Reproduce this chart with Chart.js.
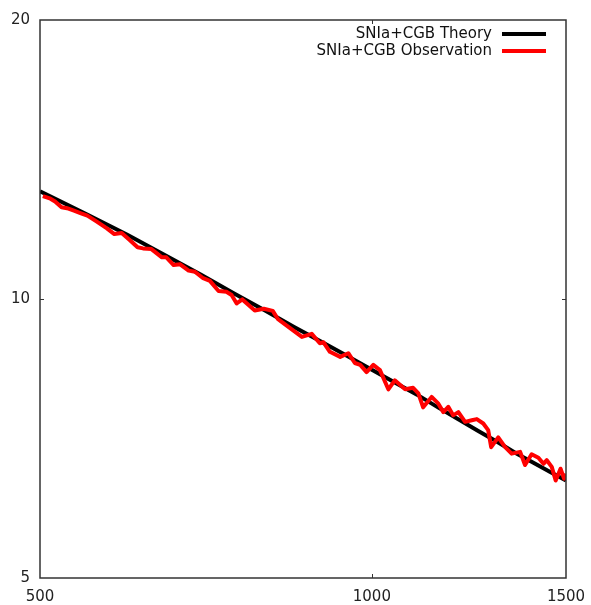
<!DOCTYPE html>
<html>
<head>
<meta charset="utf-8">
<script src="https://cdn.jsdelivr.net/npm/chart.js@4"></script>
<style>
  body { margin: 0; background: #fff; }
  canvas { display: block; }
</style>
</head>
<body>
<canvas id="chart" width="591" height="605"></canvas>
<script>
// theory curve
const theoryX = [500, 550, 600, 650, 700, 750, 800, 850, 900, 950, 1000,
  1050, 1100, 1150, 1200, 1250, 1300, 1350, 1400, 1450, 1500];
const theoryY = [13.07, 12.36, 11.73, 11.14, 10.62, 10.14, 9.72, 9.33, 8.99, 8.68, 8.39,
  8.12, 7.88, 7.63, 7.41, 7.20, 7.01, 6.82, 6.66, 6.51, 6.37];

// observation curve
const obsX = [503, 511, 516, 523, 529, 536, 544, 552, 563, 575,
  584, 593, 603, 613, 620, 631, 645, 651, 661, 670,
  682, 691, 703, 713, 726, 738, 746, 754, 763, 773,
  783, 798, 813, 822, 843, 864, 882, 897, 904, 916,
  936, 952, 965, 976, 989, 1003, 1017, 1035, 1049, 1072,
  1090, 1102, 1113, 1133, 1149, 1161, 1173, 1185, 1198, 1215,
  1232, 1245, 1262, 1275, 1283, 1302, 1321, 1339, 1363, 1377,
  1396, 1416, 1431, 1441, 1456, 1468, 1483, 1494, 1500];
const obsY = [12.91, 12.83, 12.74, 12.56, 12.53, 12.46, 12.38, 12.30, 12.12, 11.92,
  11.75, 11.78, 11.58, 11.37, 11.34, 11.32, 11.09, 11.09, 10.88, 10.90,
  10.73, 10.70, 10.53, 10.46, 10.20, 10.18, 10.10, 9.89, 9.99, 9.85,
  9.72, 9.76, 9.71, 9.51, 9.30, 9.10, 9.17, 8.96, 8.98, 8.77,
  8.66, 8.74, 8.53, 8.49, 8.34, 8.49, 8.38, 7.99, 8.17, 7.99,
  8.02, 7.91, 7.64, 7.84, 7.71, 7.55, 7.65, 7.49, 7.55, 7.37,
  7.40, 7.42, 7.34, 7.22, 6.92, 7.09, 6.92, 6.81, 6.84, 6.62,
  6.80, 6.74, 6.64, 6.70, 6.59, 6.37, 6.56, 6.40, 6.48];

const xTicks = [500, 1000, 1500];
const yTicks = [5, 10, 20];
const seriesNames = ['SNIa+CGB Theory', 'SNIa+CGB Observation'];

const FONT = '"DejaVu Sans", sans-serif';

// frame, inward ticks on all four sides, and the legend in the top-right corner
const framePlugin = {
  id: 'frame',
  afterDatasetsDraw(chart) {
    const { ctx, chartArea: a, scales } = chart;
    ctx.save();
    ctx.strokeStyle = '#333';
    ctx.lineWidth = 1.5;
    ctx.strokeRect(a.left, a.top, a.right - a.left, a.bottom - a.top);
    ctx.lineWidth = 1;
    ctx.beginPath();
    xTicks.slice(1, -1).forEach(v => {
      const px = Math.round(scales.x.getPixelForValue(v)) + 0.5;
      ctx.moveTo(px, a.bottom); ctx.lineTo(px, a.bottom - 4);
      ctx.moveTo(px, a.top); ctx.lineTo(px, a.top + 4);
    });
    yTicks.slice(1, -1).forEach(v => {
      const py = Math.round(scales.y.getPixelForValue(v)) + 0.5;
      ctx.moveTo(a.left, py); ctx.lineTo(a.left + 4, py);
      ctx.moveTo(a.right, py); ctx.lineTo(a.right - 4, py);
    });
    ctx.stroke();

    // legend
    ctx.font = '15px ' + FONT;
    ctx.textAlign = 'right';
    ctx.textBaseline = 'middle';
    const legend = [
      { label: seriesNames[0], color: '#000000', y: 34 },
      { label: seriesNames[1], color: '#ff0000', y: 51 }
    ];
    legend.forEach(it => {
      ctx.fillStyle = '#111';
      ctx.fillText(it.label, 492, it.y);
      ctx.strokeStyle = it.color;
      ctx.lineWidth = 4;
      ctx.beginPath();
      ctx.moveTo(502, it.y);
      ctx.lineTo(546, it.y);
      ctx.stroke();
    });
    ctx.restore();
  }
};

new Chart(document.getElementById('chart'), {
  type: 'line',
  data: {
    datasets: [
      {
        label: seriesNames[1],
        data: obsX.map((x, i) => ({ x, y: obsY[i] })),
        borderColor: '#ff0000',
        borderWidth: 4,
        pointRadius: 0,
        tension: 0,
        borderJoinStyle: 'round',
        order: 0
      },
      {
        label: seriesNames[0],
        data: theoryX.map((x, i) => ({ x, y: theoryY[i] })),
        borderColor: '#000000',
        borderWidth: 4,
        pointRadius: 0,
        tension: 0,
        order: 1
      }
    ]
  },
  options: {
    responsive: false,
    animation: false,
    devicePixelRatio: 1,
    layout: { padding: { top: 20, right: 25, left: 0, bottom: 0 } },
    plugins: { legend: { display: false }, tooltip: { enabled: false } },
    scales: {
      x: {
        type: 'logarithmic',
        min: 500,
        max: 1500,
        grid: { display: false, drawTicks: false },
        border: { display: false },
        afterBuildTicks: axis => { axis.ticks = xTicks.map(v => ({ value: v })); },
        afterFit: axis => {
          axis.height = 27;
          axis.paddingLeft = 0;
          axis.paddingRight = 0;
        },
        ticks: {
          autoSkip: false,
          maxRotation: 0,
          padding: 10,
          color: '#222',
          font: { family: FONT, size: 15 },
          callback: v => String(v)
        }
      },
      y: {
        type: 'logarithmic',
        min: 5,
        max: 20,
        grid: { display: false, drawTicks: false },
        border: { display: false },
        afterBuildTicks: axis => { axis.ticks = yTicks.map(v => ({ value: v })); },
        afterFit: axis => {
          axis.width = 40;
          axis.paddingTop = 0;
          axis.paddingBottom = 0;
        },
        ticks: {
          autoSkip: false,
          padding: 10,
          color: '#222',
          font: { family: FONT, size: 15 },
          callback: v => String(v)
        }
      }
    }
  },
  plugins: [framePlugin]
});
</script>
</body>
</html>
